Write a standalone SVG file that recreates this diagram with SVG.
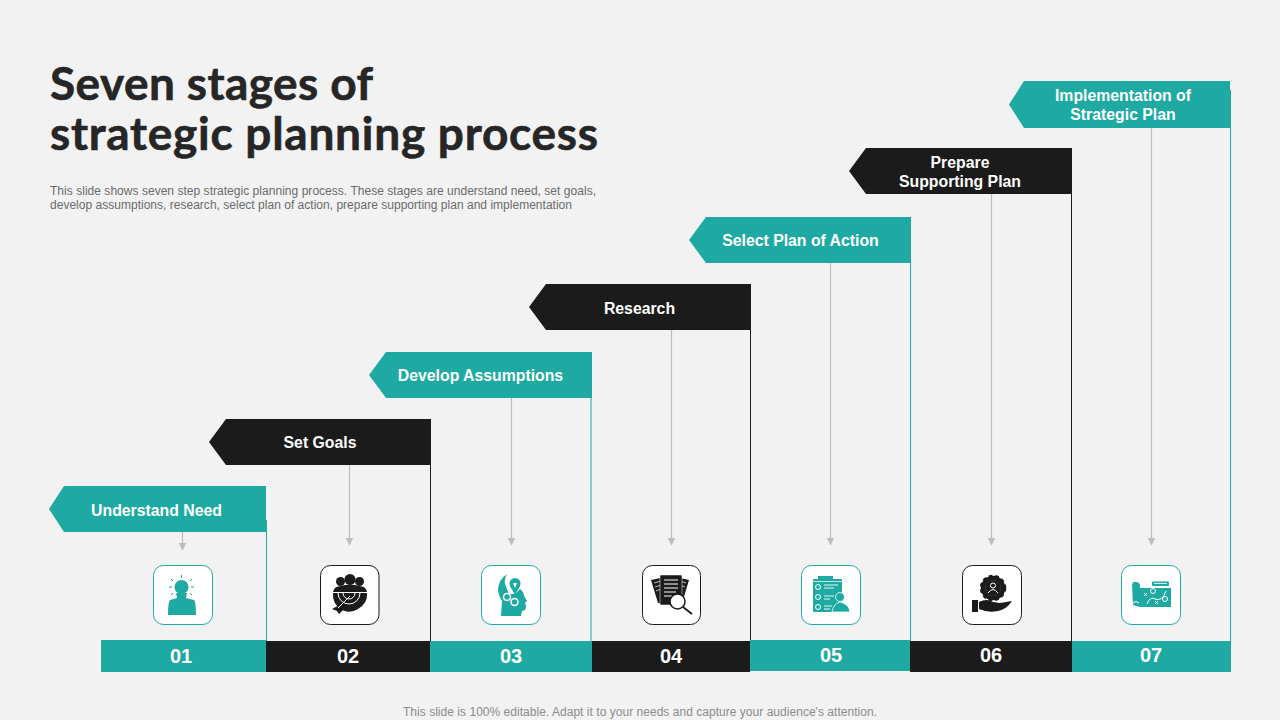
<svg xmlns="http://www.w3.org/2000/svg" width="1280" height="720" viewBox="0 0 1280 720">
<style>
text{font-family:"Liberation Sans",Arial,sans-serif}
.title{font-family:"Lato","Liberation Sans",sans-serif;font-size:46px;font-weight:700;fill:#262626;stroke:#262626;stroke-width:.6}
.desc{font-size:12px;fill:#6b6b6b}
.foot{font-size:12px;fill:#8c8c8c;text-anchor:middle}
.lab{font-size:15.800px;font-weight:700;fill:#fff;text-anchor:middle}
.num{font-size:20px;font-weight:700;fill:#fff;text-anchor:middle}
.t{fill:#1eaaa2}.k{fill:#1b1b1b}
.tl{stroke:#1eaaa2;fill:none;stroke-width:1}.kl{stroke:#1b1b1b;fill:none;stroke-width:1}
.box{fill:#fff;stroke-width:1}
.arr{stroke:#bdbdbd;stroke-width:1.200;fill:none;marker-end:url(#ah)}
.w{stroke:#fff;fill:none;stroke-width:1}
</style>
<defs><marker id="ah" markerUnits="userSpaceOnUse" markerWidth="8" markerHeight="8" refX="7.500" refY="4" orient="auto"><path d="M0 0L8 4L0 8Z" fill="#bdbdbd"/></marker></defs>
<rect width="1280" height="720" fill="#f2f2f2"/>
<text class="title" x="50" y="100" textLength="323">Seven stages of</text>
<text class="title" x="50" y="150" textLength="548">strategic planning process</text>
<text class="desc" x="50" y="195" textLength="546">This slide shows seven step strategic planning process. These stages are understand need, set goals,</text>
<text class="desc" x="50" y="209" textLength="522">develop assumptions, research, select plan of action, prepare supporting plan and implementation</text>
<text class="foot" x="640" y="716" textLength="474">This slide is 100% editable. Adapt it to your needs and capture your audience's attention.</text>
<g id="connectors">
<path class="tl" d="M266.500 520V641"/><path class="kl" d="M430.500 460V641"/><path class="tl" d="M591 390V641"/><path class="kl" d="M750.500 325V641"/><path class="tl" d="M910.500 255V641"/><path class="kl" d="M1071.500 190V641"/><path class="tl" d="M1230.500 90V641"/>
<path class="arr" d="M182.500 532V550"/><path class="arr" d="M349.500 465V545"/><path class="arr" d="M511.500 398V545"/><path class="arr" d="M671.500 330V545"/><path class="arr" d="M830.500 263V545"/><path class="arr" d="M991.500 194V545"/><path class="arr" d="M1151.500 128V545"/>
</g>
<g id="stage1"><path class="t" d="M64 486H266V532H64L49 509Z"/><text class="lab" x="156.500" y="515.500">Understand Need</text>
<rect class="box" x="153.500" y="565.500" width="59" height="59" rx="10" stroke="#1eaaa2"/>
<g class="t"><circle cx="181.500" cy="587" r="7"/><path d="M176 593H187L186 598L194 600Q196 602 196 615H168Q168 602 170 600L177 598Z"/></g>
<path d="M181.500 575V578M171 579L173 581M192 579L190 581M169 587H172M191 587H194M171 595L173 593M192 595L190 593" stroke="#1eaaa2" fill="none"/>
<rect class="t" x="101" y="640" width="165" height="32"/><text class="num" x="181" y="663">01</text></g>
<g id="stage2"><path class="k" d="M226 419H431V465H226L209 442Z"/><text class="lab" x="320" y="448">Set Goals</text>
<rect class="box" x="320.500" y="565.500" width="58.500" height="59" rx="10" stroke="#1b1b1b"/>
<g class="k"><circle cx="340.500" cy="581.500" r="4.500"/><circle cx="359.500" cy="581.500" r="4.500"/><circle cx="350" cy="579.500" r="5.500"/><path d="M333 592Q334 586 341 586L345 585H355L359 586Q366 586 367 592Z"/><path d="M333 593H367Q368 603 358 609Q350 614 342 610Q332 604 333 593Z"/><path d="M332 609L341 604L345 608L339 614L337 611Z"/></g>
<path d="M332 592.500H368" stroke="#fff"/><path class="w" d="M338 593A11 11 0 0 0 360 593M343 593A6 6 0 0 0 355 593M350 596L338 608"/>
<rect class="k" x="266" y="641" width="164" height="31"/><text class="num" x="348" y="663">02</text></g>
<g id="stage3"><path class="t" d="M386 352H592V398H386L369 375Z"/><text class="lab" x="480.500" y="381">Develop Assumptions</text>
<rect class="box" x="481.500" y="565.500" width="59" height="59" rx="10" stroke="#1eaaa2"/>
<g class="t"><path d="M507 574Q498 580 498 590Q499 597 502 601L501 616H521L522 611Q526 611 526 606L525 603L527 601L524 596Q524 592 520 589L515 594H509L505 584Q504 578 507 574Z"/><circle cx="515" cy="583.500" r="5.500"/><path d="M510 586H520L515 595Z"/></g>
<path d="M513 583L515 588L517 583Z" fill="#fff"/>
<circle cx="507" cy="597" r="3.500" fill="#1eaaa2" stroke="#fff" stroke-width="1.500"/><circle cx="514.500" cy="602" r="3.500" fill="#1eaaa2" stroke="#fff" stroke-width="1.500"/>
<rect class="t" x="430" y="641" width="162" height="31"/><text class="num" x="511" y="663">03</text></g>
<g id="stage4"><path class="k" d="M546 284H751V330H546L529 307Z"/><text class="lab" x="639.500" y="314">Research</text>
<rect class="box" x="642.500" y="565.500" width="58" height="59" rx="10" stroke="#1b1b1b"/>
<g class="k"><path d="M651 580L665 577L668 604L658 603Z"/><path d="M689 580L676 577L673 604L683 600Z"/></g>
<path d="M654 583L661 581M655 587L661 585M656 591L661 589M686 583L680 581M685 587L680 585" stroke="#fff" stroke-width=".7"/>
<rect class="k" x="660" y="575" width="22" height="30" rx="1" stroke="#fff" stroke-width=".5"/>
<path d="M664 580H678M664 584H678M664 588H678M664 592H676M664 596H672" stroke="#fff"/>
<circle cx="677.500" cy="601.500" r="7.500" fill="#fff" stroke="#1b1b1b" stroke-width="1.500"/><path d="M683 607L692 614" stroke="#1b1b1b" stroke-width="1.800"/>
<rect class="k" x="592" y="641" width="158" height="31"/><text class="num" x="671" y="663">04</text></g>
<g id="stage5"><path class="t" d="M706 217H911V263H706L689 240Z"/><text class="lab" x="800.500" y="246">Select Plan of Action</text>
<rect class="box" x="801.500" y="565.500" width="59" height="59" rx="10" stroke="#1eaaa2"/>
<g class="t"><rect x="813" y="579" width="29" height="33" rx="1"/><rect x="818" y="576" width="15" height="5"/></g>
<path d="M813 581.500H842" stroke="#fff" stroke-width=".7"/>
<path d="M824 585H838M824 588H834M824 596H834M824 599H830M824 606H832M824 609H830" stroke="#fff" stroke-width=".9"/><circle cx="818" cy="587" r="2.500" class="w"/><circle cx="818" cy="597" r="2.500" class="w"/><circle cx="818" cy="607" r="2.500" class="w"/>
<g class="t" stroke="#fff" stroke-width=".8"><circle cx="840" cy="597" r="4.500"/><path d="M832 612Q833 604 840 602Q849 604 850 612Z"/></g>
<rect class="t" x="750" y="640" width="160" height="31"/><text class="num" x="831" y="662">05</text></g>
<g id="stage6"><path class="k" d="M866 148H1072V194H866L849 171Z"/><text class="lab" x="960" y="168">Prepare</text><text class="lab" x="960" y="187">Supporting Plan</text>
<rect class="box" x="962.500" y="565.500" width="59" height="59" rx="10" stroke="#1b1b1b"/>
<circle cx="993" cy="588" r="10" fill="none" stroke="#1b1b1b" stroke-width="4.500"/><circle cx="993" cy="588" r="12" fill="none" stroke="#1b1b1b" stroke-width="2.500" stroke-dasharray="3.500 3"/><circle cx="993" cy="588" r="8" fill="#1b1b1b"/>
<circle cx="993" cy="585.500" r="2.500" class="w"/><path class="w" d="M988 593Q993 586 998 593"/>
<g class="k"><rect x="972" y="600" width="6" height="12"/><path d="M979 602Q987 598 993 602L1000 603L1012 601Q1007 609 998 611Q988 613 979 609Z"/></g>
<rect class="k" x="910" y="641" width="162" height="31"/><text class="num" x="991" y="662">06</text></g>
<g id="stage7"><path class="t" d="M1024 81H1230V128H1024L1009 104.500Z"/><text class="lab" x="1123" y="101">Implementation of</text><text class="lab" x="1123" y="120">Strategic Plan</text>
<rect class="box" x="1121.500" y="565.500" width="59" height="59" rx="10" stroke="#1eaaa2"/>
<g class="t"><path d="M1132 585Q1133 581 1136 582Q1139 582 1140 585V588H1171V607H1140L1133 605Z"/><rect x="1152" y="581.500" width="17" height="4.500" rx="1"/></g>
<path d="M1154 583.500H1167" stroke="#fff" stroke-width=".8"/>
<circle cx="1153" cy="591" r="2.500" class="w"/><circle cx="1165" cy="599" r="2.500" class="w"/><path class="w" d="M1147 604Q1150 596 1155 599Q1162 602 1166 591"/><path class="w" d="M1144 593L1147 596M1147 593L1144 596M1155 601L1158 604M1158 601L1155 604M1133 603Q1136 600 1139 603"/>
<rect class="t" x="1072" y="641" width="159" height="31"/><text class="num" x="1151" y="662">07</text></g>
</svg>
